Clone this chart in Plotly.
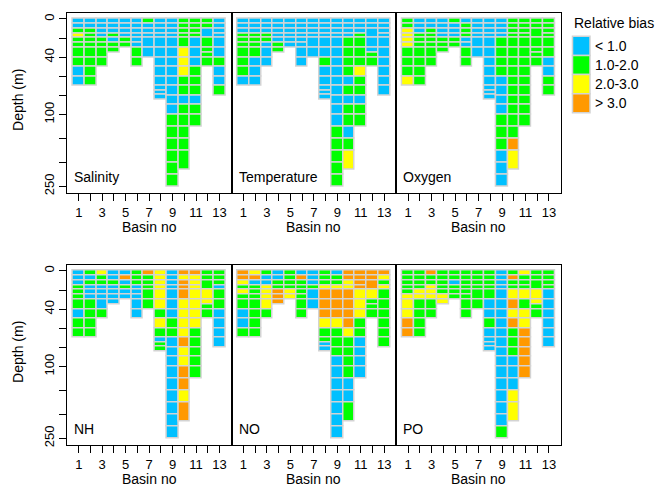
import plotly.graph_objects as go

W, H = 656, 492

# ---------------- data ----------------
basin_no = list(range(1, 14))

# depth layer boundaries (m) for each basin 1..13
basin_layers = [
    [0, 5, 10, 15, 20, 25, 30, 40, 50, 60, 70],
    [0, 5, 10, 15, 20, 25, 30, 40, 50, 60, 70],
    [0, 5, 10, 15, 20, 25, 30, 40, 50],
    [0, 5, 10, 15, 20, 25, 30, 35],
    [0, 5, 10, 15, 20, 25, 30],
    [0, 5, 10, 15, 20, 25, 30, 40, 50],
    [0, 5, 10, 15, 20, 30, 40],
    [0, 5, 10, 15, 20, 30, 40, 50, 60, 70, 74.7, 79.3, 84],
    [0, 5, 10, 15, 20, 30, 40, 50, 60, 70, 80, 90, 100, 125, 150, 175, 200, 225, 250],
    [0, 5, 10, 15, 20, 30, 40, 50, 60, 70, 80, 90, 100, 125, 150, 175, 215],
    [0, 5, 10, 15, 20, 30, 40, 50, 60, 70, 80, 90, 100, 125],
    [0, 5, 10, 20, 30, 35, 40, 50],
    [0, 5, 10, 15, 20, 30, 40, 50, 60, 70, 80],
]

# relative bias class per layer (top->bottom), B:<1.0  G:1.0-2.0  Y:2.0-3.0  O:>3.0
salinity = ["BBGYGGGGBB", "BBGGGGGGGG", "BBBBGGGG", "BBBGBGG", "BBBBGG", "BBBBBBGG",
            "GBBBBB", "BBBBBBBBBBBB", "BBBBBBBBBBBBGGGGGG", "GGGGGYYYGGBGGGGG",
            "GGGGBBBGGGBGG", "GGBGGGG", "BBBBBBGBBG"]
temperature = ["BBBGGGGGGB", "BBBGGGGBBB", "BBBGGBBB", "BBBBBGG", "BBBBBB", "BBBBBBBB",
               "BBBBBB", "BBBBBBGBBBBB", "BBBBBBBBBBBBBGGGGG", "BBBBGGGGBGBGGBGY",
               "BBBGGGGYGGBGG", "BBBBBGG", "BBBBBBBBBB"]
oxygen = ["GGYYYYGGGY", "BBBGGGGGGG", "BBGGGGGG", "BBBBGGG", "GBBBGG", "BGGGBBGG",
          "BBBBBB", "BBBBBBBBBBBB", "BBBBGGGGBBBBGGGBBB", "GGGGGGGGGGGGGGOY",
          "GGGGGGGGGGGGG", "GGGGGGG", "GGGGGGBBGG"]
nh = ["BBBGGGGBGG", "GBGBBBGGGG", "YGGBBBBG", "BBGBBBB", "BOBGBB", "GGGBBBBB",
      "OGGGGG", "YYYYYYGYGBGG", "BBBBBBBGGBBBBBBBBB", "OYOOOYYYYOYYOOYO",
      "OYYYYYYYGGGGG", "GGGYYGG", "GGGBGGBBBB"]
no = ["OOYGYGGBBG", "YOBGGGGGGG", "GBBYYYYG", "BBGGOOO", "GGGGYY", "BOGGGGGG",
      "BBBGBB", "GGGYOOOYGGBB", "BGGYOOOYGGGBBBBBBB", "OOYYOOOOYGGGGBBG",
      "OOOOYYYGGBBBB", "OOOYGGG", "OYGYGGGGGG"]
po = ["GGGGGYYYOO", "GGGGYYGGGG", "OGGYYYGG", "GGGGGYY", "GGBGGG", "GGGGGGGG",
      "GGGGGG", "GGGGGBBGBBBB", "BBBBBBBBBBBBBBBBBG", "GOGGYOYOGGGBBBYY",
      "YGGGYGYYOOOOO", "GGGYYGG", "GGGGBBBBBB"]

panel_names = ["Salinity", "Temperature", "Oxygen", "NH", "NO", "PO"]
panel_codes = [salinity, temperature, oxygen, nh, no, po]

class_codes = ["B", "G", "Y", "O"]
class_labels = ["< 1.0", "1.0-2.0", "2.0-3.0", "> 3.0"]
class_colors = ["#00C0FF", "#00FF00", "#FFFF00", "#FF9900"]

depth_ticks = [0, 20, 40, 60, 80, 100, 150, 200, 250]
depth_labels = ["0", "", "40", "", "", "100", "", "", "250"]
basin_labels = [str(b) if b % 2 == 1 else "" for b in basin_no]

# ---------------- styling ----------------
FONT = "Liberation Sans, Arial, sans-serif"
BORDER = "#D3D3D3"
color_of = dict(zip(class_codes, class_colors))


def tr(d):
    """depth axis: linear to 100 m, half scale below"""
    return d if d <= 100 else 100 + (d - 100) / 2.0


panel_left = [66.8, 231.5, 396.2]
panel_w = 164.7
row_top = [12.7, 265.7]
row_bot = [194.0, 447.0]

fig = go.Figure()
annotations = []
shapes = []
layout_axes = {}

for i, (name, codes) in enumerate(zip(panel_names, panel_codes)):
    r, c = divmod(i, 3)
    xs, bases, hs, cols = [], [], [], []
    for b, bounds, seq in zip(basin_no, basin_layers, codes):
        for k, code in enumerate(seq):
            t0, t1 = tr(bounds[k]), tr(bounds[k + 1])
            xs.append(b)
            bases.append(t0)
            hs.append(t1 - t0)
            cols.append(color_of[code])
    sfx = "" if i == 0 else str(i + 1)
    fig.add_trace(go.Bar(
        x=xs, y=hs, base=bases, width=1.0,
        marker=dict(color=cols, line=dict(color=BORDER, width=1.5)),
        xaxis="x" + sfx, yaxis="y" + sfx,
        hoverinfo="skip", showlegend=False,
    ))
    x0 = (panel_left[c]) / W
    x1 = (panel_left[c] + panel_w) / W
    y0 = 1 - row_bot[r] / H
    y1 = 1 - row_top[r] / H
    layout_axes["xaxis" + sfx] = dict(
        domain=[x0, x1], range=[-0.02, 14.02], anchor="y" + sfx,
        tickmode="array", tickvals=basin_no, ticktext=basin_labels,
        ticks="outside", ticklen=7, tickwidth=1, tickcolor="black",
        showline=True, mirror=True, linecolor="black", linewidth=1,
        showgrid=False, zeroline=False, tickangle=0,
        tickfont=dict(family=FONT, size=13, color="black"),
    )
    layout_axes["yaxis" + sfx] = dict(
        domain=[y0, y1], range=[182.3, -6.6], anchor="x" + sfx,
        tickmode="array", tickvals=[tr(d) for d in depth_ticks], ticktext=depth_labels,
        ticks="outside" if c == 0 else "", ticklen=7, tickwidth=1, tickcolor="black",
        showticklabels=(c == 0), tickangle=-90,
        showline=True, mirror=True, linecolor="black", linewidth=1,
        showgrid=False, zeroline=False,
        tickfont=dict(family=FONT, size=13, color="black"),
    )
    # panel name
    annotations.append(dict(
        text=name, xref="paper", yref="paper",
        x=(panel_left[c] + 5) / W, y=1 - (row_bot[r] - 16.5) / H,
        xanchor="left", yanchor="middle", showarrow=False,
        font=dict(family=FONT, size=14, color="black"),
    ))
    # x axis title
    annotations.append(dict(
        text="Basin no", xref="paper", yref="paper",
        x=(panel_left[c] + panel_w / 2) / W, y=1 - (row_bot[r] + 34) / H,
        xanchor="center", yanchor="middle", showarrow=False,
        font=dict(family=FONT, size=14, color="black"),
    ))
    if c == 0:
        annotations.append(dict(
            text="Depth (m)", xref="paper", yref="paper",
            x=18 / W, y=1 - ((row_top[r] + row_bot[r]) / 2 - 3) / H,
            xanchor="center", yanchor="middle", showarrow=False, textangle=-90,
            font=dict(family=FONT, size=14, color="black"),
        ))

# legend
annotations.append(dict(
    text="Relative bias", xref="paper", yref="paper", x=572 / W, y=1 - 23 / H,
    xanchor="left", yanchor="middle", showarrow=False,
    font=dict(family=FONT, size=14, color="black"),
))
for k, (lab, col) in enumerate(zip(class_labels, class_colors)):
    top = 36.5 + 19.2 * k
    shapes.append(dict(
        type="rect", xref="paper", yref="paper",
        x0=572.5 / W, x1=590 / W, y0=1 - (top + 19.2) / H, y1=1 - top / H,
        fillcolor=col, line=dict(color=BORDER, width=1.5),
    ))
    annotations.append(dict(
        text=lab, xref="paper", yref="paper", x=593 / W, y=1 - (top + 9.6) / H,
        xanchor="left", yanchor="middle", showarrow=False,
        font=dict(family=FONT, size=14, color="black"),
    ))

fig.update_layout(
    width=W, height=H, margin=dict(l=0, r=0, t=0, b=0),
    paper_bgcolor="white", plot_bgcolor="white",
    barmode="overlay", bargap=0, showlegend=False,
    annotations=annotations, shapes=shapes,
    font=dict(family=FONT, size=13, color="black"),
    **layout_axes,
)

fig.write_html(
    "out.html",
    config={"displayModeBar": False},
    post_script="document.body.style.margin='0px';document.body.style.overflow='hidden';",
)
